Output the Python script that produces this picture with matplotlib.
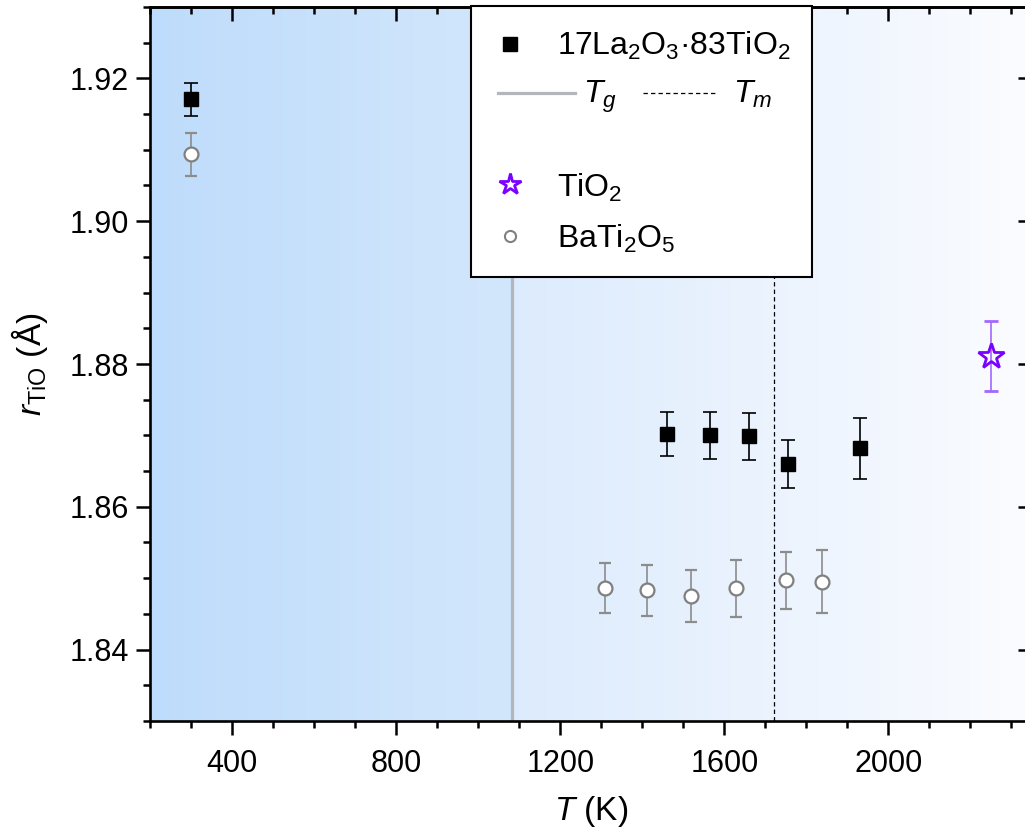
import numpy as np
import matplotlib.pyplot as plt
from matplotlib.colors import LinearSegmentedColormap
from matplotlib.ticker import MultipleLocator
from matplotlib.lines import Line2D
from matplotlib.patches import Rectangle

plt.rcParams['font.family'] = ['Liberation Sans', 'DejaVu Sans']
plt.rcParams['mathtext.fontset'] = 'custom'
plt.rcParams['mathtext.rm'] = 'Liberation Sans'
plt.rcParams['mathtext.it'] = 'Liberation Sans:italic'

# 17La2O3-83TiO2
T_lto = [300, 1460, 1565, 1660, 1755, 1930]
r_lto = [1.9171, 1.8702, 1.8700, 1.8699, 1.8660, 1.8682]
err_lto = [0.0023, 0.0031, 0.0033, 0.0033, 0.0033, 0.0043]

# BaTi2O5
T_bto = [300, 1310, 1412, 1518, 1628, 1750, 1837]
r_bto = [1.9094, 1.8486, 1.8483, 1.8475, 1.8486, 1.8497, 1.8495]
err_bto = [0.0030, 0.0035, 0.0036, 0.0037, 0.0040, 0.0040, 0.0044]

# TiO2
T_tio2 = [2250]
r_tio2 = [1.8811]
err_tio2 = [0.0049]

Tg = 1083
Tm = 1722
xlim = (200, 2350)
ylim = (1.83, 1.93)

fig = plt.figure(figsize=(10.25, 8.39), dpi=100)
ax = fig.add_axes([150 / 1025, 118 / 839, 882 / 1025, 714 / 839])

# fundo em degradê
grad = np.linspace(0, 1, 256).reshape(1, -1)
cm_glass = LinearSegmentedColormap.from_list('g', ['#bedcfb', '#d3e7fc'])
cm_liq = LinearSegmentedColormap.from_list('l', ['#dcebfd', '#fbfcff'])
ax.imshow(grad, cmap=cm_glass, extent=[xlim[0], Tg, ylim[0], ylim[1]],
          aspect='auto', zorder=0)
ax.imshow(grad, cmap=cm_liq, extent=[Tg, xlim[1], ylim[0], ylim[1]],
          aspect='auto', zorder=0)

ax.axvline(Tg, color='#b3b6bb', lw=2.3, zorder=1)
ax.axvline(Tm, color='black', lw=0.9, ls=(0, (3.5, 2.5)), zorder=1)

ax.errorbar(T_bto, r_bto, yerr=err_bto, fmt='o', ms=10, mfc='white',
            mec='#808080', mew=1.6, ecolor='#8c8c8c', elinewidth=1.2,
            capsize=4.5, capthick=1.2, zorder=3)
ax.errorbar(T_lto, r_lto, yerr=err_lto, fmt='s', ms=10.5, mfc='black',
            mec='black', ecolor='black', elinewidth=1.2, capsize=5,
            capthick=1.2, zorder=4)
ax.errorbar(T_tio2, r_tio2, yerr=err_tio2, fmt='*', ms=19, mfc='none',
            mec='#7a00ff', mew=2, ecolor='#a366ff', elinewidth=1.2,
            capsize=5, capthick=1.2, zorder=4)

ax.set_xlim(*xlim)
ax.set_ylim(*ylim)

ax.xaxis.set_major_locator(MultipleLocator(400))
ax.xaxis.set_minor_locator(MultipleLocator(100))
ax.yaxis.set_major_locator(MultipleLocator(0.02))
ax.yaxis.set_minor_locator(MultipleLocator(0.005))
ax.tick_params(which='major', length=10, width=1.8, labelsize=22, direction='out')
ax.tick_params(which='minor', length=5, width=1.8, direction='out')
ax.tick_params(axis='x', which='major', pad=10)
ax.tick_params(axis='y', which='major', pad=5)
for s in ax.spines.values():
    s.set_linewidth(1.9)

sx = ax.secondary_xaxis('top')
sx.xaxis.set_major_locator(MultipleLocator(400))
sx.xaxis.set_minor_locator(MultipleLocator(100))
sx.tick_params(which='major', length=10, width=1.8, direction='in', labeltop=False)
sx.tick_params(which='minor', length=5, width=1.8, direction='in')
sx.spines['top'].set_linewidth(1.9)
sy = ax.secondary_yaxis('right')
sy.yaxis.set_major_locator(MultipleLocator(0.02))
sy.yaxis.set_minor_locator(MultipleLocator(0.005))
sy.tick_params(which='major', length=10, width=1.8, direction='in', labelright=False)
sy.tick_params(which='minor', length=5, width=1.8, direction='in')
sy.spines['right'].set_linewidth(1.9)

ax.set_xlabel('$T$ (K)', fontsize=24, labelpad=11)
ax.set_ylabel('$r_{\\mathrm{TiO}}$ (Å)', fontsize=24, labelpad=14)

# legenda desenhada à mão (linha com Tg e Tm lado a lado)
tr = ax.transAxes
ax.add_patch(Rectangle((0.364, 0.622), 0.387, 0.38, transform=tr, fc='white',
                       ec='black', lw=1.5, zorder=6, clip_on=False))
ax.add_line(Line2D([0.408], [0.9486], transform=tr, marker='s', ms=10,
                   color='black', ls='none', zorder=7))
ax.text(0.4615, 0.9332, '17La$_2$O$_3$·83TiO$_2$', transform=tr, fontsize=23,
        va='baseline', zorder=7)
ax.add_line(Line2D([0.3946, 0.4819], [0.880, 0.880], transform=tr,
                   color='#b3b6bb', lw=2.3, zorder=7))
ax.text(0.491, 0.866, '$T_g$', transform=tr, fontsize=23, va='baseline', zorder=7)
ax.add_line(Line2D([0.559, 0.6406], [0.880, 0.880], transform=tr,
                   color='black', lw=0.9, ls=(0, (3.5, 2.5)), zorder=7))
ax.text(0.661, 0.866, '$T_m$', transform=tr, fontsize=23, va='baseline', zorder=7)
ax.add_line(Line2D([0.408], [0.7524], transform=tr, marker='*', ms=16,
                   mfc='none', mec='#7a00ff', mew=2, ls='none', zorder=7))
ax.text(0.4615, 0.734, 'TiO$_2$', transform=tr, fontsize=23, va='baseline', zorder=7)
ax.add_line(Line2D([0.408], [0.6796], transform=tr, marker='o', ms=8,
                   mfc='white', mec='#808080', mew=1.5, ls='none', zorder=7))
ax.text(0.4615, 0.6627, 'BaTi$_2$O$_5$', transform=tr, fontsize=23, va='baseline', zorder=7)

fig.savefig('out.png', dpi=100)
